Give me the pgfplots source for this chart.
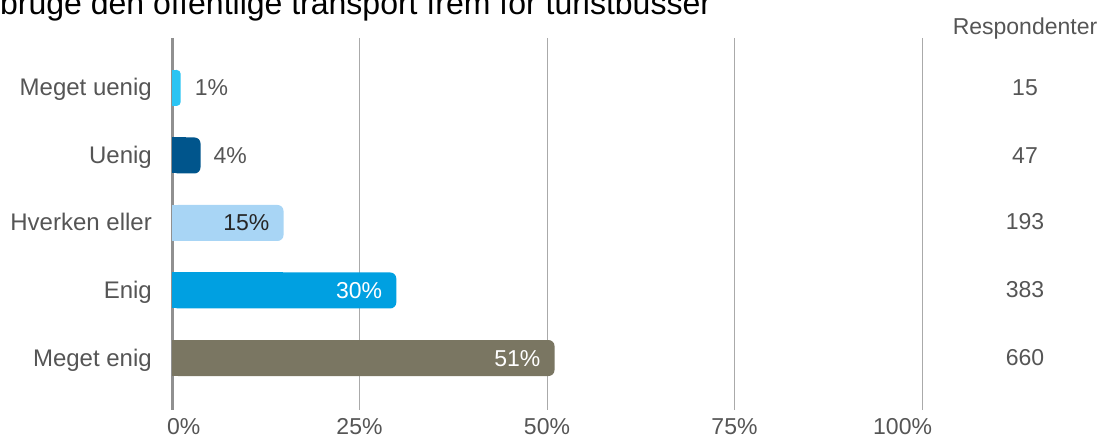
\documentclass[border=0pt]{standalone}
\usepackage{fontspec}
\setmainfont{Liberation Sans}
\usepackage{pgfplots}
\pgfplotsset{compat=1.18}
\definecolor{c1}{HTML}{2BC4F3}
\definecolor{c2}{HTML}{00558C}
\definecolor{c3}{HTML}{A8D5F5}
\definecolor{c4}{HTML}{00A0E1}
\definecolor{c5}{HTML}{7A7662}
\definecolor{txt}{HTML}{555555}
\definecolor{gridc}{HTML}{AAAAAA}
\begin{document}
\begin{tikzpicture}[x=1bp,y=1bp]
\path[use as bounding box] (0,0) rectangle (1103,439);
\node[anchor=base west, inner sep=0, font=\fontsize{32bp}{36bp}\selectfont, text=black] at (0,424) {bruge den offentlige transport frem for turistbusser};
\begin{axis}[
  at={(172bp,29bp)}, anchor=south west,
  scale only axis, width=750bp, height=372bp,
  xmin=0, xmax=100, ymin=-0.74, ymax=4.77, y dir=reverse,
  clip=false,
  axis line style={draw=none},
  xtick={25,50,75,100}, extra x ticks={0},
  xticklabels={25\%,50\%,75\%,\makebox[0pt][r]{100\%\hspace{-10bp}}},
  extra x tick labels={\makebox[0pt][l]{\hspace{-5bp}0\%}},
  xmajorgrids, major grid style={draw=gridc, line width=1bp},
  extra x tick style={grid=major, major grid style={draw=gridc!85!black, line width=3bp}},
  major tick length=0pt,
  ytick={0,1,2,3,4},
  yticklabels={Meget uenig,Uenig,Hverken eller,Enig,Meget enig},
  tick label style={font=\fontsize{23bp}{26bp}\selectfont, text=txt},
  yticklabel style={font=\fontsize{24bp}{27bp}\selectfont, anchor=base east, inner sep=0, xshift=-20bp, yshift=-8bp},
  xticklabel style={anchor=base, inner sep=0, yshift=-25bp},
  xbar, bar shift=0pt, bar width=36bp,
  point meta=explicit symbolic,
  every node near coord/.append style={font=\fontsize{23bp}{26bp}\selectfont, inner sep=0},
]
% square left halves
\addplot[draw=none, fill=c1] coordinates {(0.58,0)};
\addplot[draw=none, fill=c2] coordinates {(1.8,1)};
\addplot[draw=none, fill=c3] coordinates {(7.45,2)};
\addplot[draw=none, fill=c4] coordinates {(14.75,3)};
\addplot[draw=none, fill=c5] coordinates {(25.4,4)};
% rounded bars with labels
\addplot[draw=none, fill=c1, rounded corners=4bp, nodes near coords,
  every node near coord/.append style={anchor=base west, xshift=14bp, yshift=-8bp, text=txt}]
  coordinates {(1.16,0) [1\%]};
\addplot[draw=none, fill=c2, rounded corners=6bp, nodes near coords,
  every node near coord/.append style={anchor=base west, xshift=13bp, yshift=-8bp, text=txt}]
  coordinates {(3.8,1) [4\%]};
\addplot[draw=none, fill=c3, rounded corners=6bp, nodes near coords,
  every node near coord/.append style={anchor=base east, xshift=-14bp, yshift=-8bp, text=black!85}]
  coordinates {(14.87,2) [15\%]};
\addplot[draw=none, fill=c4, rounded corners=6bp, nodes near coords,
  every node near coord/.append style={anchor=base east, xshift=-14bp, yshift=-8bp, text=white}]
  coordinates {(29.9,3) [30\%]};
\addplot[draw=none, fill=c5, rounded corners=6bp, nodes near coords,
  every node near coord/.append style={anchor=base east, xshift=-14bp, yshift=-8bp, text=white}]
  coordinates {(51.0,4) [51\%]};
\end{axis}
\begin{scope}[every node/.style={font=\fontsize{23bp}{26bp}\selectfont, text=txt, inner sep=0, anchor=base}]
\node at (1025,404) {Respondenter};
\node at (1025,343) {15};
\node at (1025,275) {47};
\node at (1025,209) {193};
\node at (1025,141) {383};
\node at (1025,73) {660};
\end{scope}
\end{tikzpicture}
\end{document}
